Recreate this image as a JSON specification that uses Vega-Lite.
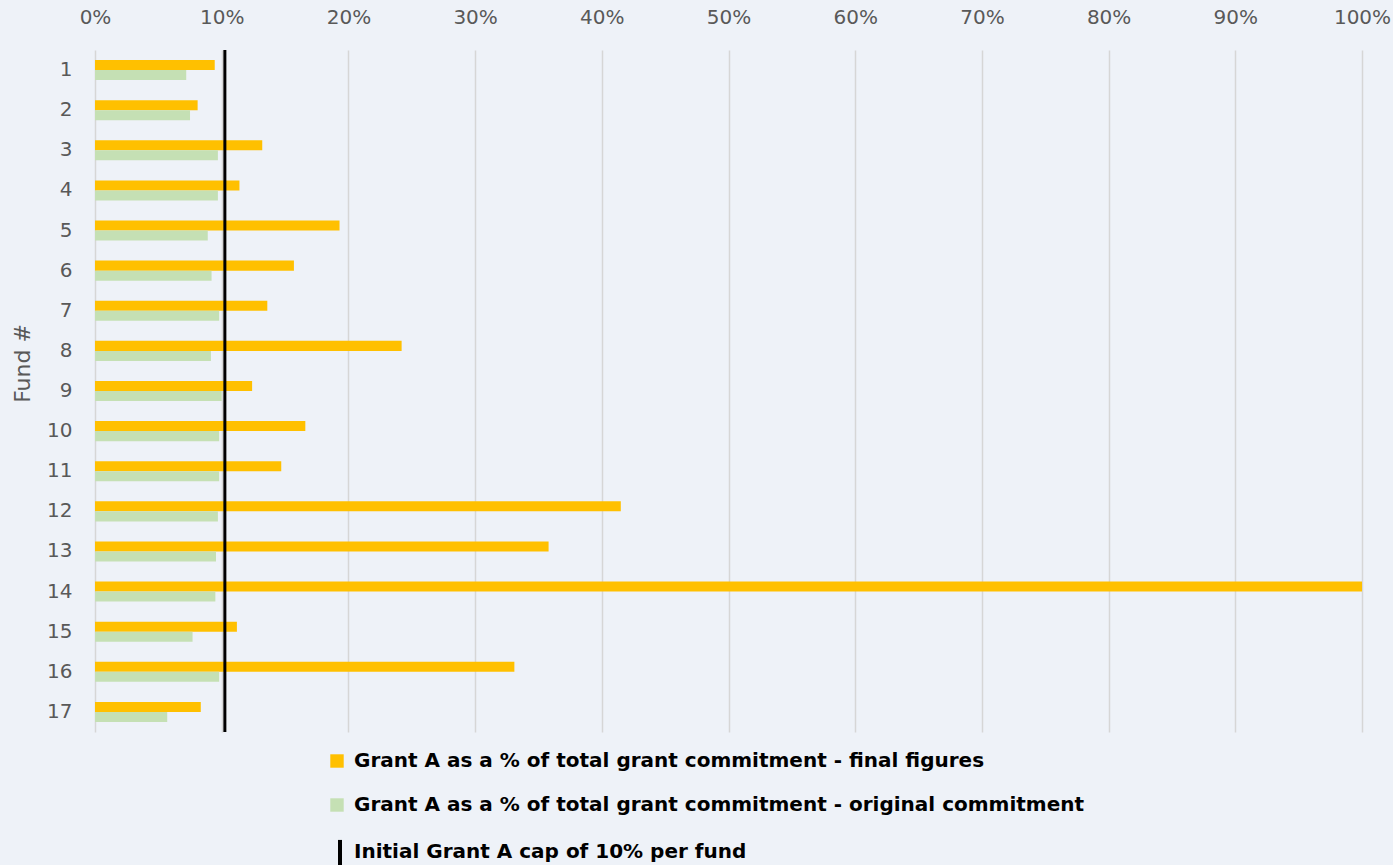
{
  "$schema": "https://vega.github.io/schema/vega-lite/v6.json",
  "width": 1267,
  "height": 682,
  "autosize": {"type": "none"},
  "padding": {"left": 95, "top": 50, "right": 31, "bottom": 133},
  "background": "#eef2f8",
  "config": {
    "view": {"stroke": null},
    "font": "DejaVu Sans"
  },
  "datasets": {
    "bars": [
      {"fund": "1", "series": "Grant A as a % of total grant commitment - final figures", "value": 9.45},
      {"fund": "1", "series": "Grant A as a % of total grant commitment - original commitment", "value": 7.2},
      {"fund": "2", "series": "Grant A as a % of total grant commitment - final figures", "value": 8.1},
      {"fund": "2", "series": "Grant A as a % of total grant commitment - original commitment", "value": 7.5},
      {"fund": "3", "series": "Grant A as a % of total grant commitment - final figures", "value": 13.2},
      {"fund": "3", "series": "Grant A as a % of total grant commitment - original commitment", "value": 9.7},
      {"fund": "4", "series": "Grant A as a % of total grant commitment - final figures", "value": 11.4},
      {"fund": "4", "series": "Grant A as a % of total grant commitment - original commitment", "value": 9.7},
      {"fund": "5", "series": "Grant A as a % of total grant commitment - final figures", "value": 19.3},
      {"fund": "5", "series": "Grant A as a % of total grant commitment - original commitment", "value": 8.9},
      {"fund": "6", "series": "Grant A as a % of total grant commitment - final figures", "value": 15.7},
      {"fund": "6", "series": "Grant A as a % of total grant commitment - original commitment", "value": 9.2},
      {"fund": "7", "series": "Grant A as a % of total grant commitment - final figures", "value": 13.6},
      {"fund": "7", "series": "Grant A as a % of total grant commitment - original commitment", "value": 9.8},
      {"fund": "8", "series": "Grant A as a % of total grant commitment - final figures", "value": 24.2},
      {"fund": "8", "series": "Grant A as a % of total grant commitment - original commitment", "value": 9.15},
      {"fund": "9", "series": "Grant A as a % of total grant commitment - final figures", "value": 12.4},
      {"fund": "9", "series": "Grant A as a % of total grant commitment - original commitment", "value": 10.0},
      {"fund": "10", "series": "Grant A as a % of total grant commitment - final figures", "value": 16.6},
      {"fund": "10", "series": "Grant A as a % of total grant commitment - original commitment", "value": 9.8},
      {"fund": "11", "series": "Grant A as a % of total grant commitment - final figures", "value": 14.7},
      {"fund": "11", "series": "Grant A as a % of total grant commitment - original commitment", "value": 9.8},
      {"fund": "12", "series": "Grant A as a % of total grant commitment - final figures", "value": 41.5},
      {"fund": "12", "series": "Grant A as a % of total grant commitment - original commitment", "value": 9.7},
      {"fund": "13", "series": "Grant A as a % of total grant commitment - final figures", "value": 35.8},
      {"fund": "13", "series": "Grant A as a % of total grant commitment - original commitment", "value": 9.55},
      {"fund": "14", "series": "Grant A as a % of total grant commitment - final figures", "value": 100},
      {"fund": "14", "series": "Grant A as a % of total grant commitment - original commitment", "value": 9.5},
      {"fund": "15", "series": "Grant A as a % of total grant commitment - final figures", "value": 11.2},
      {"fund": "15", "series": "Grant A as a % of total grant commitment - original commitment", "value": 7.7},
      {"fund": "16", "series": "Grant A as a % of total grant commitment - final figures", "value": 33.1},
      {"fund": "16", "series": "Grant A as a % of total grant commitment - original commitment", "value": 9.8},
      {"fund": "17", "series": "Grant A as a % of total grant commitment - final figures", "value": 8.35},
      {"fund": "17", "series": "Grant A as a % of total grant commitment - original commitment", "value": 5.7}
    ],
    "cap": [
      {"series": "Initial Grant A cap of 10% per fund", "value": 10.25}
    ]
  },
  "layer": [
    {
      "data": {"name": "bars"},
      "mark": {"type": "bar"},
      "encoding": {
        "y": {
          "field": "fund",
          "type": "ordinal",
          "sort": null,
          "scale": {"paddingInner": 0.5, "paddingOuter": 0.25},
          "axis": {
            "title": "Fund #",
            "titleFont": "DejaVu Sans",
            "titleFontSize": 22,
            "titleFontWeight": "normal",
            "titleColor": "#595959",
            "titlePadding": 12,
            "titleY": 313,
            "labelFont": "DejaVu Sans",
            "labelFontSize": 20,
            "labelColor": "#595959",
            "labelPadding": 23,
            "ticks": false,
            "domain": false,
            "grid": false
          }
        },
        "yOffset": {
          "field": "series",
          "type": "nominal",
          "sort": [
            "Grant A as a % of total grant commitment - final figures",
            "Grant A as a % of total grant commitment - original commitment"
          ],
          "scale": {"paddingInner": 0, "paddingOuter": 0}
        },
        "x": {
          "field": "value",
          "type": "quantitative",
          "scale": {"domain": [0, 100], "nice": false},
          "axis": {
            "orient": "top",
            "title": null,
            "values": [0, 10, 20, 30, 40, 50, 60, 70, 80, 90, 100],
            "labelExpr": "datum.value + '%'",
            "labelFont": "DejaVu Sans",
            "labelFontSize": 20,
            "labelColor": "#595959",
            "labelPadding": 23,
            "labelFlush": false,
            "ticks": false,
            "domain": false,
            "grid": true,
            "gridColor": "#d6d6d6",
            "gridWidth": 1.5
          }
        },
        "color": {
          "field": "series",
          "type": "nominal",
          "scale": {
            "domain": [
              "Grant A as a % of total grant commitment - final figures",
              "Grant A as a % of total grant commitment - original commitment",
              "Initial Grant A cap of 10% per fund"
            ],
            "range": ["#FFC000", "#C5E0B4", "#000000"]
          },
          "legend": {
            "title": null,
            "orient": "none",
            "legendX": 232,
            "legendY": 701,
            "direction": "vertical",
            "padding": 0,
            "rowPadding": 24,
            "symbolSize": 180,
            "symbolStrokeWidth": 0,
            "symbolOpacity": 1,
            "labelFont": "DejaVu Sans",
            "labelFontSize": 20,
            "labelFontWeight": "bold",
            "labelColor": "#000000",
            "labelOffset": 7,
            "labelLimit": 0,
            "encode": {
              "symbols": {
                "update": {
                  "shape": {"signal": "datum.value === 'Initial Grant A cap of 10% per fund' ? 'M0.15,-1.8L0.75,-1.8L0.75,2.4L0.15,2.4Z' : 'square'"}
                }
              }
            }
          }
        }
      }
    },
    {
      "data": {"name": "cap"},
      "mark": {"type": "rule", "color": "#000000", "strokeWidth": 3},
      "encoding": {
        "x": {"field": "value", "type": "quantitative"}
      }
    }
  ]
}
